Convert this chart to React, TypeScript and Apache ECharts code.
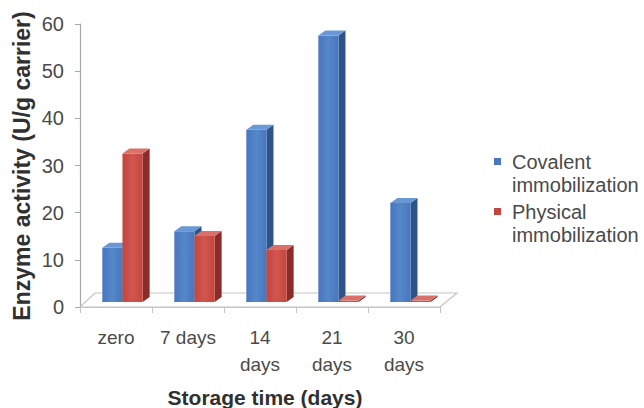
import React, { useEffect, useRef } from "react";
import * as echarts from "echarts";

const categories = ["zero", "7 days", "14\ndays", "21\ndays", "30\ndays"];
const covalent = [11.5, 15, 36.5, 56.5, 21];
const physical = [31.5, 14, 11, 0.3, 0.3];
const yTicks = { min: 0, max: 60, interval: 10 };
const seriesNames = ["Covalent\nimmobilization", "Physical\nimmobilization"];

const BLUE = { front: "#4777bd", side: "#2d5389", top: "#6a98d4", mid: "#5587ca" };
const RED = { front: "#c4463f", side: "#8c2c28", top: "#d8716a", mid: "#d0564e" };

const FONT = "'Liberation Sans', Arial, sans-serif";

function makeBarRender(slot: number, c: typeof BLUE) {
  return (params: any, api: any) => {
    const i = api.value(0);
    const v = api.value(1);
    const base = api.coord([i, 0]);
    const top = api.coord([i, v]);
    const band = api.size([1, 0])[0];
    const w = band * 0.28;
    const x0 = base[0] - band / 2 + band * (0.31 + slot * 0.28);
    const lift = 5;
    const yb = base[1] - lift;
    const yt = top[1] - lift;
    const dx = 7;
    const dy = -5;
    return {
      type: "group",
      children: [
        {
          type: "polygon",
          shape: { points: [[x0 + w, yt], [x0 + w + dx, yt + dy], [x0 + w + dx, yb + dy], [x0 + w, yb]] },
          style: { fill: c.side },
        },
        {
          type: "rect",
          shape: { x: x0, y: yt, width: w, height: yb - yt },
          style: {
            fill: new echarts.graphic.LinearGradient(0, 0, 1, 0, [
              { offset: 0, color: c.front },
              { offset: 0.5, color: c.mid },
              { offset: 1, color: c.front },
            ]),
          },
        },
        {
          type: "polygon",
          shape: { points: [[x0, yt], [x0 + dx, yt + dy], [x0 + w + dx, yt + dy], [x0 + w, yt]] },
          style: { fill: c.top },
        },
      ],
    };
  };
}

function floorRender(params: any, api: any) {
  const cs = params.coordSys;
  const yb = cs.y + cs.height;
  const fdx = 15;
  const fdy = -14;
  return {
    type: "polygon",
    shape: {
      points: [
        [cs.x, yb],
        [cs.x + fdx, yb + fdy],
        [cs.x + cs.width + fdx + 2, yb + fdy],
        [cs.x + cs.width, yb],
      ],
    },
    style: { fill: "#ffffff", stroke: "#c4c4c4", lineWidth: 1.2 },
  };
}

export default function App() {
  const ref = useRef<HTMLDivElement>(null);
  useEffect(() => {
    if (!ref.current) return;
    const chart = echarts.init(ref.current, undefined, { renderer: "svg" });
    const labelColor = "#4a4a4a";
    chart.setOption({
      animation: false,
      backgroundColor: "#ffffff",
      grid: { left: 80, top: 24, right: 204, bottom: 101, containLabel: false },
      xAxis: {
        type: "category",
        data: categories,
        axisLine: { show: true, lineStyle: { color: "#c4c4c4", width: 1.2 } },
        axisTick: { show: true, length: 6, interval: 0, lineStyle: { color: "#c4c4c4" } },
        axisLabel: {
          interval: 0,
          color: labelColor,
          fontFamily: FONT,
          fontSize: 19,
          lineHeight: 27,
          margin: 17,
        },
        splitLine: { show: false },
        z: 5,
      },
      yAxis: {
        type: "value",
        min: yTicks.min,
        max: yTicks.max,
        interval: yTicks.interval,
        axisLine: { show: true, lineStyle: { color: "#a8a8a8", width: 1.2 } },
        axisTick: { show: true, length: 5, lineStyle: { color: "#a8a8a8" } },
        axisLabel: {
          color: labelColor,
          fontFamily: FONT,
          fontSize: 20,
          margin: 16,
        },
        splitLine: { show: false },
      },
      series: [
        {
          type: "custom",
          name: "floor",
          data: [[0, 0]],
          renderItem: floorRender,
          silent: true,
          z: 1,
        },
        {
          type: "custom",
          name: seriesNames[0],
          data: covalent.map((v, i) => [i, v]),
          encode: { x: 0, y: 1 },
          renderItem: makeBarRender(0, BLUE),
          z: 2,
        },
        {
          type: "custom",
          name: seriesNames[1],
          data: physical.map((v, i) => [i, v]),
          encode: { x: 0, y: 1 },
          renderItem: makeBarRender(1, RED),
          z: 3,
        },
      ],
      graphic: [
        {
          type: "text",
          x: 22,
          y: 166,
          rotation: Math.PI / 2,
          style: {
            text: "Enzyme activity (U/g carrier)",
            fill: "#303030",
            font: "bold 23px " + FONT,
            textAlign: "center",
            textVerticalAlign: "middle",
          },
        },
        {
          type: "text",
          x: 265,
          y: 397,
          style: {
            text: "Storage time (days)",
            fill: "#303030",
            font: "bold 21px " + FONT,
            textAlign: "center",
            textVerticalAlign: "middle",
          },
        },
        {
          type: "rect",
          shape: { x: 494, y: 158, width: 7, height: 7 },
          style: { fill: BLUE.front },
        },
        {
          type: "text",
          x: 512,
          y: 150,
          style: {
            text: seriesNames[0],
            fill: labelColor,
            font: "20px " + FONT,
            lineHeight: 23,
            textVerticalAlign: "top",
          },
        },
        {
          type: "rect",
          shape: { x: 494, y: 208, width: 7, height: 7 },
          style: { fill: RED.front },
        },
        {
          type: "text",
          x: 512,
          y: 200,
          style: {
            text: seriesNames[1],
            fill: labelColor,
            font: "20px " + FONT,
            lineHeight: 23,
            textVerticalAlign: "top",
          },
        },
      ],
    });
    return () => chart.dispose();
  }, []);
  return (
    <div
      ref={ref}
      style={{ position: "fixed", left: 0, top: 0, width: 644, height: 408 }}
    />
  );
}
